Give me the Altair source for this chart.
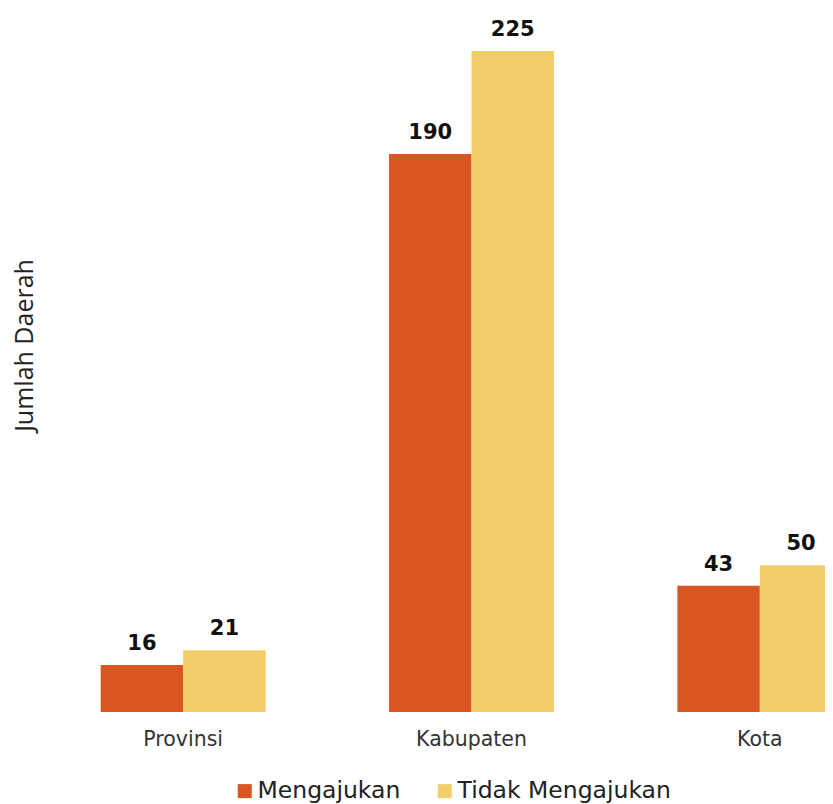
import altair as alt
import pandas as pd

categories = ["Provinsi", "Kabupaten", "Kota"]
series = ["Mengajukan", "Tidak Mengajukan"]
mengajukan = [16, 190, 43]
tidak_mengajukan = [21, 225, 50]
colors = ["#D95621", "#F2CE6A"]

rows = []
for c, a, b in zip(categories, mengajukan, tidak_mengajukan):
    rows.append({"Kategori": c, "Status": series[0], "Jumlah": a})
    rows.append({"Kategori": c, "Status": series[1], "Jumlah": b})
df = pd.DataFrame(rows)

FONT = "DejaVu Sans"

x = alt.X("Kategori:N", sort=categories, title=None,
          scale=alt.Scale(paddingInner=0.428, paddingOuter=0.214),
          axis=alt.Axis(labelAngle=0, labelFont=FONT, labelFontSize=20.5,
                        labelColor="#333333", ticks=False, tickSize=0,
                        domain=False, labelPadding=17))
xoff = alt.XOffset("Status:N", sort=series, scale=alt.Scale(paddingInner=0, paddingOuter=0))
y = alt.Y("Jumlah:Q", scale=alt.Scale(domain=[0, 239], nice=False),
          axis=alt.Axis(title="Jumlah Daerah", labels=False, ticks=False, domain=False,
                        grid=False, titleFont="Open Sans", titleFontSize=25,
                        titleFontWeight="normal", titleColor="#222222",
                        titleAngle=270, titleX=-15, titleY=335,
                        titleAlign="center", titleBaseline="middle"))

bars = alt.Chart(df).mark_bar().encode(
    x=x, xOffset=xoff, y=y,
    color=alt.Color("Status:N", sort=series,
                    scale=alt.Scale(domain=series, range=colors),
                    legend=alt.Legend(title=None, orient="none", legendX=194, legendY=769,
                                      direction="horizontal", symbolType="square",
                                      symbolSize=196, symbolStrokeWidth=0,
                                      labelFont=FONT, labelFontSize=23.5, labelLimit=400,
                                      labelColor="#222222", labelOffset=1,
                                      columnPadding=32)),
)

labels = alt.Chart(df).mark_text(font=FONT, fontSize=21, fontWeight="bold",
                                 color="#111111", dy=-15, baseline="alphabetic").encode(
    x=x, xOffset=xoff, y=y, text="Jumlah:Q"
)

chart = (bars + labels).properties(
    width=865, height=702,
    autosize=alt.AutoSizeParams(type="none"),
    padding={"left": 31, "top": 2, "right": -79, "bottom": 104},
).configure_view(stroke=None)

chart.save("out.html", embed_options={"renderer": "svg", "actions": False})
